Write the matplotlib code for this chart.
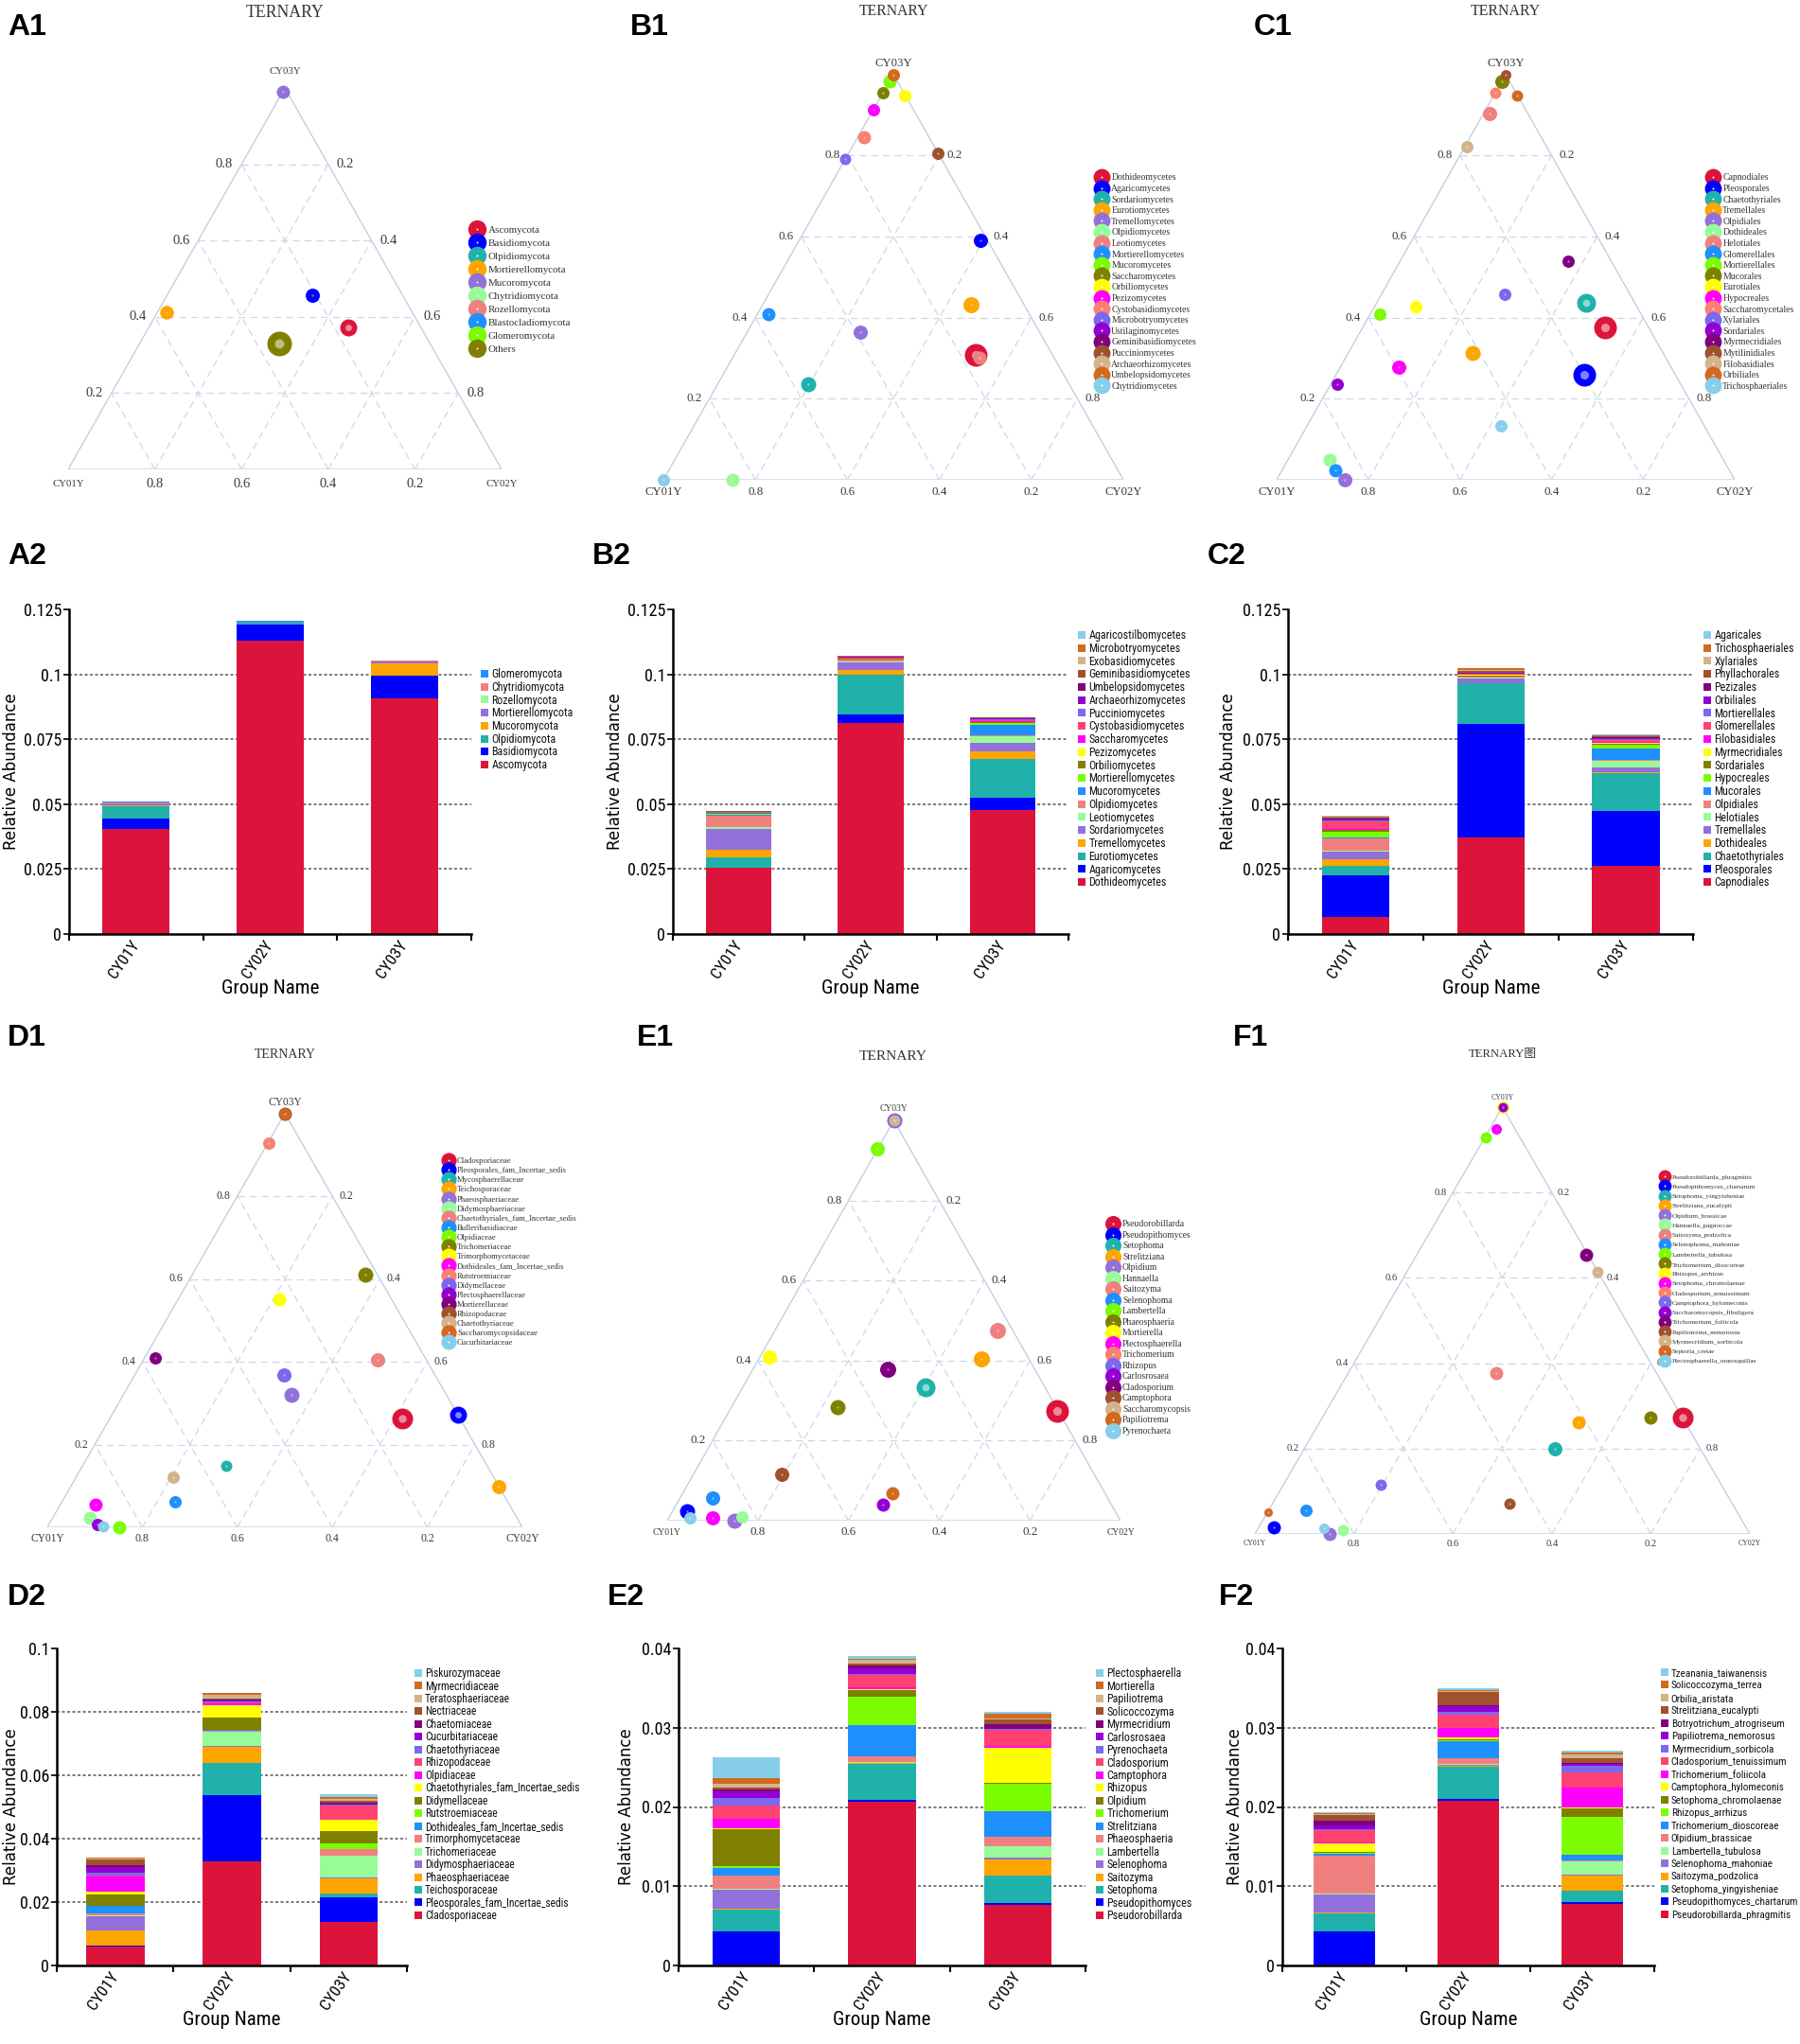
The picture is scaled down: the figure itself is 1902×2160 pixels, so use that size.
import numpy as np
import matplotlib
matplotlib.use('Agg')
import matplotlib.pyplot as plt
from matplotlib.lines import Line2D
from matplotlib.font_manager import FontProperties
from matplotlib.transforms import offset_copy

nan = np.nan
GROUPS = ['CY01Y', 'CY02Y', 'CY03Y']

# ----------------------------------------------------------------- A : phylum
a1_taxa = ['Ascomycota', 'Basidiomycota', 'Olpidiomycota', 'Mortierellomycota', 'Mucoromycota',
           'Chytridiomycota', 'Rozellomycota', 'Blastocladiomycota', 'Glomeromycota', 'Others']
a1_cy01y = [0.168, 0.208, nan, 0.568, 0.010, nan, nan, nan, nan, 0.349]
a1_cy02y = [0.460, 0.335, nan, 0.020, 0.000, nan, nan, nan, nan, 0.321]
a1_cy03y = [0.372, 0.457, nan, 0.412, 0.990, nan, nan, nan, nan, 0.330]

a2_taxa = ['Ascomycota', 'Basidiomycota', 'Olpidiomycota', 'Mucoromycota', 'Mortierellomycota',
           'Rozellomycota', 'Chytridiomycota', 'Glomeromycota']
a2_cy01y = [0.0405, 0.0041, 0.0047, 0.0003, 0.0006, 0.0001, 0.0002, 0.0005]
a2_cy02y = [0.1128, 0.0064, 0.0006, 0.0001, 0.0003, 0.0001, 0.0001, 0.0003]
a2_cy03y = [0.0906, 0.0088, 0.0002, 0.0047, 0.0007, 0.0001, 0.0001, 0.0002]

# ----------------------------------------------------------------- B : class
b1_taxa = ['Dothideomycetes', 'Agaricomycetes', 'Sordariomycetes', 'Eurotiomycetes', 'Tremellomycetes',
           'Olpidiomycetes', 'Leotiomycetes', 'Mortierellomycetes', 'Mucoromycetes', 'Saccharomycetes',
           'Orbiliomycetes', 'Pezizomycetes', 'Cystobasidiomycetes', 'Microbotryomycetes',
           'Ustilaginomycetes', 'Geminibasidiomycetes', 'Pucciniomycetes', 'Archaeorhizomycetes',
           'Umbelopsidomycetes', 'Chytridiomycetes']
b1_cy01y = [0.166, 0.015, 0.567, 0.116, 0.390, 0.849, 0.163, 0.568, 0.017, 0.045,
            0.001, 0.087, 0.141, 0.208, nan, nan, 0.000, nan, 0.000, 1.000]
b1_cy02y = [0.525, 0.394, 0.198, 0.452, 0.246, 0.151, 0.536, 0.024, 0.000, 0.000,
            0.052, 0.000, 0.015, 0.000, nan, nan, 0.194, nan, 0.000, 0.000]
b1_cy03y = [0.309, 0.591, 0.235, 0.432, 0.364, 0.000, 0.301, 0.408, 0.983, 0.955,
            0.947, 0.913, 0.844, 0.792, nan, nan, 0.806, nan, 1.000, 0.000]

b2_taxa = ['Dothideomycetes', 'Agaricomycetes', 'Eurotiomycetes', 'Tremellomycetes', 'Sordariomycetes',
           'Leotiomycetes', 'Olpidiomycetes', 'Mucoromycetes', 'Mortierellomycetes', 'Orbiliomycetes',
           'Pezizomycetes', 'Saccharomycetes', 'Cystobasidiomycetes', 'Pucciniomycetes',
           'Archaeorhizomycetes', 'Umbelopsidomycetes', 'Geminibasidiomycetes', 'Exobasidiomycetes',
           'Microbotryomycetes', 'Agaricostilbomycetes']
b2_cy01y = [0.0254, 0.0001, 0.0039, 0.0031, 0.0080, 0.0005, 0.0046, 0.0002, 0.0005, 0.0002,
            0.0001, 0.0001, 0.0001, 0.0001, 0.0001, 0.0001, 0.0001, 0.0001, 0.0002, 0.0000]
b2_cy02y = [0.0811, 0.0033, 0.0156, 0.0018, 0.0028, 0.0002, 0.0008, 0.0001, 0.0001, 0.0001,
            0.0001, 0.0001, 0.0003, 0.0001, 0.0001, 0.0001, 0.0001, 0.0001, 0.0001, 0.0000]
b2_cy03y = [0.0477, 0.0047, 0.0151, 0.0029, 0.0032, 0.0026, 0.0003, 0.0042, 0.0006, 0.0003,
            0.0002, 0.0002, 0.0004, 0.0003, 0.0003, 0.0002, 0.0001, 0.0001, 0.0001, 0.0000]

# ----------------------------------------------------------------- C : order
c1_taxa = ['Capnodiales', 'Pleosporales', 'Chaetothyriales', 'Tremellales', 'Olpidiales', 'Dothideales',
           'Helotiales', 'Glomerellales', 'Mortierellales', 'Mucorales', 'Eurotiales', 'Hypocreales',
           'Saccharomycetales', 'Xylariales', 'Sordariales', 'Myrmecridiales', 'Mytilinidiales',
           'Filobasidiales', 'Orbiliales', 'Trichosphaeriales']
c1_cy01y = [0.096, 0.200, 0.106, 0.416, 0.851, 0.860, 0.084, 0.860, 0.571, 0.017,
            0.482, 0.596, 0.045, 0.273, 0.750, 0.094, 0.000, 0.174, 0.001, 0.444]
c1_cy02y = [0.528, 0.541, 0.458, 0.271, 0.149, 0.092, 0.013, 0.116, 0.021, 0.000,
            0.090, 0.127, 0.000, 0.270, 0.014, 0.366, 0.000, 0.004, 0.052, 0.423]
c1_cy03y = [0.376, 0.259, 0.436, 0.313, 0.000, 0.048, 0.903, 0.024, 0.408, 0.983,
            0.428, 0.277, 0.955, 0.457, 0.237, 0.540, 1.000, 0.822, 0.947, 0.133]

c2_taxa = ['Capnodiales', 'Pleosporales', 'Chaetothyriales', 'Dothideales', 'Tremellales', 'Helotiales',
           'Olpidiales', 'Mucorales', 'Hypocreales', 'Sordariales', 'Myrmecridiales', 'Filobasidiales',
           'Glomerellales', 'Mortierellales', 'Orbiliales', 'Pezizales', 'Phyllachorales', 'Xylariales',
           'Trichosphaeriales', 'Agaricales']
c2_cy01y = [0.0066, 0.0159, 0.0037, 0.0026, 0.0028, 0.0005, 0.0046, 0.0003, 0.0025, 0.0005,
            0.0002, 0.0002, 0.0028, 0.0005, 0.0004, 0.0002, 0.0004, 0.0003, 0.0002, 0.0003]
c2_cy02y = [0.0371, 0.0438, 0.0155, 0.0003, 0.0018, 0.0002, 0.0003, 0.0001, 0.0002, 0.0002,
            0.0004, 0.0001, 0.0002, 0.0001, 0.0002, 0.0002, 0.0006, 0.0002, 0.0008, 0.0001]
c2_cy03y = [0.0262, 0.0210, 0.0148, 0.0003, 0.0018, 0.0026, 0.0002, 0.0045, 0.0016, 0.0003,
            0.0004, 0.0004, 0.0006, 0.0003, 0.0003, 0.0004, 0.0003, 0.0002, 0.0002, 0.0005]

# ----------------------------------------------------------------- D : family
d1_taxa = ['Cladosporiaceae', 'Pleosporales_fam_Incertae_sedis', 'Mycosphaerellaceae', 'Teichosporaceae',
           'Phaeosphaeriaceae', 'Didymosphaeriaceae', 'Chaetothyriales_fam_Incertae_sedis',
           'Bulleribasidiaceae', 'Olpidiaceae', 'Trichomeriaceae', 'Trimorphomycetaceae',
           'Dothideales_fam_Incertae_sedis', 'Rutstroemiaceae', 'Didymellaceae', 'Plectosphaerellaceae',
           'Mortierellaceae', 'Rhizopodaceae', 'Chaetothyriaceae', 'Saccharomycopsidaceae',
           'Cucurbitariaceae']
d1_cy01y = [0.121, 0.000, 0.549, 0.000, 0.326, 0.898, 0.102, 0.700, 0.849, 0.025,
            0.235, 0.871, 0.070, 0.319, 0.891, 0.568, 0.000, 0.647, 0.000, 0.881]
d1_cy02y = [0.617, 0.728, 0.302, 0.902, 0.354, 0.079, 0.493, 0.238, 0.151, 0.365,
            0.213, 0.074, 0.002, 0.314, 0.101, 0.022, 0.000, 0.196, 0.000, 0.116]
d1_cy03y = [0.262, 0.272, 0.149, 0.098, 0.320, 0.023, 0.406, 0.062, 0.000, 0.611,
            0.552, 0.055, 0.928, 0.367, 0.008, 0.410, 1.000, 0.115, 1.000, 0.003]

d2_taxa = ['Cladosporiaceae', 'Pleosporales_fam_Incertae_sedis', 'Teichosporaceae', 'Phaeosphaeriaceae',
           'Didymosphaeriaceae', 'Trichomeriaceae', 'Trimorphomycetaceae', 'Dothideales_fam_Incertae_sedis',
           'Rutstroemiaceae', 'Didymellaceae', 'Chaetothyriales_fam_Incertae_sedis', 'Olpidiaceae',
           'Rhizopodaceae', 'Chaetothyriaceae', 'Cucurbitariaceae', 'Chaetomiaceae', 'Nectriaceae',
           'Teratosphaeriaceae', 'Myrmecridiaceae', 'Piskurozymaceae']
d2_cy01y = [0.0061, 0.0001, 0.0001, 0.0047, 0.0044, 0.0004, 0.0006, 0.0023, 0.0002, 0.0035,
            0.0009, 0.0048, 0.0002, 0.0010, 0.0017, 0.0006, 0.0018, 0.0003, 0.0002, 0.0002]
d2_cy02y = [0.0327, 0.0210, 0.0101, 0.0051, 0.0004, 0.0043, 0.0005, 0.0002, 0.0001, 0.0038,
            0.0040, 0.0006, 0.0002, 0.0002, 0.0004, 0.0003, 0.0004, 0.0012, 0.0004, 0.0002]
d2_cy03y = [0.0137, 0.0078, 0.0011, 0.0048, 0.0003, 0.0070, 0.0019, 0.0002, 0.0017, 0.0040,
            0.0034, 0.0002, 0.0043, 0.0002, 0.0002, 0.0004, 0.0007, 0.0006, 0.0006, 0.0009]

# ----------------------------------------------------------------- E : genus
e1_taxa = ['Pseudorobillarda', 'Pseudopithomyces', 'Setophoma', 'Strelitziana', 'Olpidium', 'Hannaella',
           'Saitozyma', 'Selenophoma', 'Lambertella', 'Phaeosphaeria', 'Mortierella', 'Plectosphaerella',
           'Trichomerium', 'Rhizopus', 'Carlosrosaea', 'Cladosporium', 'Camptophora', 'Saccharomycopsis',
           'Papiliotrema', 'Pyrenochaeta']
e1_cy01y = [0.002, 0.944, 0.264, 0.105, 0.851, 0.830, 0.034, 0.871, 0.071, 0.483,
            0.570, 0.897, nan, 0.000, 0.504, 0.324, 0.688, 0.000, 0.472, 0.945]
e1_cy02y = [0.724, 0.032, 0.403, 0.492, 0.149, 0.161, 0.491, 0.072, 0.000, 0.234,
            0.020, 0.097, nan, 0.000, 0.456, 0.298, 0.194, 0.000, 0.464, 0.047]
e1_cy03y = [0.274, 0.024, 0.333, 0.405, 0.000, 0.009, 0.475, 0.057, 0.929, 0.283,
            0.410, 0.007, nan, 1.000, 0.040, 0.378, 0.116, 1.000, 0.070, 0.008]

e2_taxa = ['Pseudorobillarda', 'Pseudopithomyces', 'Setophoma', 'Saitozyma', 'Selenophoma', 'Lambertella',
           'Phaeosphaeria', 'Strelitziana', 'Trichomerium', 'Olpidium', 'Rhizopus', 'Camptophora',
           'Cladosporium', 'Pyrenochaeta', 'Carlosrosaea', 'Myrmecridium', 'Solicoccozyma', 'Papiliotrema',
           'Mortierella', 'Plectosphaerella']
e2_cy01y = [0.0001, 0.0042, 0.0028, 0.0001, 0.0023, 0.0002, 0.0017, 0.0009, 0.0002, 0.0047,
            0.0001, 0.0012, 0.0017, 0.0009, 0.0009, 0.0002, 0.0003, 0.0004, 0.0008, 0.0026]
e2_cy02y = [0.0207, 0.0002, 0.0045, 0.0001, 0.0001, 0.0001, 0.0007, 0.0039, 0.0036, 0.0009,
            0.0001, 0.0002, 0.0016, 0.0001, 0.0007, 0.0004, 0.0002, 0.0005, 0.0001, 0.0004]
e2_cy03y = [0.0077, 0.0002, 0.0035, 0.0020, 0.0002, 0.0015, 0.0011, 0.0033, 0.0034, 0.0001,
            0.0045, 0.0002, 0.0020, 0.0001, 0.0001, 0.0006, 0.0005, 0.0002, 0.0006, 0.0002]

# ----------------------------------------------------------------- F : species
f1_taxa = ['Pseudorobillarda_phragmitis', 'Pseudopithomyces_chartarum', 'Setophoma_yingyisheniae',
           'Strelitziana_eucalypti', 'Olpidium_brassicae', 'Hannaella_pagnoccae', 'Saitozyma_podzolica',
           'Selenophoma_mahoniae', 'Lambertella_tubulosa', 'Trichomerium_dioscoreae', 'Rhizopus_arrhizus',
           'Setophoma_chromolaenae', 'Cladosporium_tenuissimum', 'Camptophora_hylomeconis',
           'Saccharomycopsis_fibuligera', 'Trichomerium_foliicola', 'Papiliotrema_nemorosus',
           'Myrmecridium_sorbicola', 'Septoria_cretae', 'Plectosphaerella_oratosquillae']
f1_cy01y = [0.000, 0.953, 0.295, 0.215, 0.849, 0.818, 0.323, 0.870, 0.070, 0.064,
            0.000, 0.039, nan, 0.688, 0.000, 0.004, 0.449, 0.001, 0.948, 0.854]
f1_cy02y = [0.728, 0.031, 0.506, 0.524, 0.151, 0.174, 0.300, 0.075, 0.002, 0.663,
            0.000, 0.013, nan, 0.196, 0.000, 0.343, 0.479, 0.384, 0.000, 0.132]
f1_cy03y = [0.272, 0.016, 0.199, 0.261, 0.000, 0.009, 0.377, 0.056, 0.928, 0.273,
            1.000, 0.948, nan, 0.115, 1.000, 0.653, 0.072, 0.615, 0.052, 0.014]

f2_taxa = ['Pseudorobillarda_phragmitis', 'Pseudopithomyces_chartarum', 'Setophoma_yingyisheniae',
           'Saitozyma_podzolica', 'Selenophoma_mahoniae', 'Lambertella_tubulosa', 'Olpidium_brassicae',
           'Trichomerium_dioscoreae', 'Rhizopus_arrhizus', 'Setophoma_chromolaenae',
           'Camptophora_hylomeconis', 'Trichomerium_foliicola', 'Cladosporium_tenuissimum',
           'Myrmecridium_sorbicola', 'Papiliotrema_nemorosus', 'Botryotrichum_atrogriseum',
           'Strelitziana_eucalypti', 'Orbilia_aristata', 'Solicoccozyma_terrea', 'Tzeanania_taiwanensis']
f2_cy01y = [0.0001, 0.0042, 0.0023, 0.0001, 0.0022, 0.0002, 0.0048, 0.0002, 0.0001, 0.0001,
            0.0011, 0.0001, 0.0016, 0.0001, 0.0005, 0.0006, 0.0007, 0.0001, 0.0001, 0.0001]
f2_cy02y = [0.0208, 0.0002, 0.0041, 0.0001, 0.0001, 0.0001, 0.0007, 0.0022, 0.0001, 0.0001,
            0.0003, 0.0012, 0.0016, 0.0004, 0.0007, 0.0001, 0.0017, 0.0001, 0.0001, 0.0003]
f2_cy03y = [0.0078, 0.0002, 0.0014, 0.0019, 0.0002, 0.0016, 0.0001, 0.0008, 0.0047, 0.0011,
            0.0002, 0.0025, 0.0019, 0.0008, 0.0002, 0.0002, 0.0006, 0.0004, 0.0003, 0.0002]

# ----------------------------------------------------------------- styles
TERN_COLORS = ['#DC143C', '#0000FF', '#20B2AA', '#FFA500', '#9370DB', '#98FB98', '#F08080', '#1E90FF',
               '#7CFC00', '#808000', '#FFFF00', '#FF00FF', '#FA8072', '#7B68EE', '#9400D3', '#800080',
               '#A0522D', '#D2B48C', '#D2691E', '#87CEEB']
BAR_COLORS = TERN_COLORS[:12] + ['#FF4272'] + TERN_COLORS[13:]
EDGE = '#c3cfe3'
GRIDC = '#cdd8ea'
SERIF = ['Liberation Serif', 'DejaVu Serif']
NARROW = ['Liberation Sans Narrow', 'Roboto Condensed', 'Noto Sans Condensed', 'DejaVu Sans Condensed',
          'Roboto', 'DejaVu Sans']
LEVELS = [0.2, 0.4, 0.6, 0.8]

# marker diameters in pixels (style)
a1_size = [18, 15, 14, 14.5, 14, 14, 14, 14, 14, 26]
b1_size = [24, 15, 16, 17, 15, 14, 14, 14, 14, 13, 13, 13, 14, 12, 12, 12, 13, 12, 13, 13]
c1_size = [24, 24, 20, 16, 15, 14, 15, 14, 13, 15, 13, 15, 12, 13, 13, 13, 11, 13, 12, 13]
d1_size = [22, 18, 12, 15, 16, 14, 15, 13, 14, 16, 14, 14, 13, 15, 13, 13, 14, 13, 12, 12]
e1_size = [24, 16, 20, 17, 16, 13, 17, 15, 15, 16, 15, 15, 15, 16, 14, 17, 15, 12, 14, 13]
f1_size = [22, 14, 15, 14, 14, 12, 14, 13, 12, 14, 13, 11, 12, 12, 10, 14, 12, 12, 9, 11]

W, H = 1902, 2160
fig = plt.figure(figsize=(W / 100, H / 100), dpi=100)
renderer = fig.canvas.get_renderer()


def narrow_prop(size):
    return FontProperties(family=NARROW, stretch='condensed', size=size)


def fit_size(sample, target_px, cap):
    w, _, _ = renderer.get_text_width_height_descent(sample, narrow_prop(10), ismath=False)
    return min(cap, 10 * target_px / w)


LEG_FS = 0.5 * (fit_size('Mortierellomycota', 87, 9.6) + fit_size('Geminibasidiomycetes', 106, 9.6))
TICK_FS = fit_size('0.125', 40, 13.5)
CAT_FS = fit_size('CY01Y', 45, 14)
XLAB_FS = fit_size('Group Name', 103, 16.5)


def add_box(l, r, t, b):
    return fig.add_axes([l / W, 1 - b / H, (r - l) / W, (b - t) / H])


def place_legend(handles, labels, xc, y_first, pitch, prop, hl, htp, color):
    fs = prop.get_size_in_points()
    _, h, d = renderer.get_text_width_height_descent('lp', prop, ismath=False)
    fs_px = fs * 100 / 72
    ls = (pitch - h) / fs_px
    top = y_first - ((h - d) - 0.35 * fs_px)
    left = xc - hl * fs_px / 2
    return fig.legend(handles, labels, loc='upper left', bbox_to_anchor=(left / W, 1 - top / H),
                      bbox_transform=fig.transFigure, frameon=False, prop=prop, labelspacing=ls,
                      handlelength=hl, handletextpad=htp, borderpad=0, borderaxespad=0,
                      handleheight=0.7, labelcolor=color)


def ternary(sp, taxa, fa, fb, fc, diam):
    l, r, t, b = sp['box']
    ax = add_box(l, r, t, b)
    ax.set_xlim(0, 1)
    ax.set_ylim(0, 1)
    ax.axis('off')
    ax.plot([0, 1, 0.5, 0], [0, 0, 1, 0], color=EDGE, lw=1.0, zorder=1)
    for v in LEVELS:
        kw = dict(color=GRIDC, lw=0.9, ls=(0, (6, 4)), zorder=1)
        ax.plot([v / 2, 1 - v / 2], [v, v], **kw)
        ax.plot([v, (1 + v) / 2], [0, 1 - v], **kw)
        ax.plot([1 - v, (1 - v) / 2], [0, 1 - v], **kw)
    so, bo = sp['side_off'], sp['bot_off']
    tl = offset_copy(ax.transData, fig=fig, x=-so, y=0, units='dots')
    tr = offset_copy(ax.transData, fig=fig, x=so, y=0, units='dots')
    tb = offset_copy(ax.transData, fig=fig, x=0, y=-bo, units='dots')
    tkw = dict(fontfamily=SERIF, fontsize=sp['tick_fs'], color='#3a3a3a')
    for v in LEVELS:
        ax.text(v / 2, v, f'{v:.1f}', transform=tl, ha='right', va='center', **tkw)
        ax.text(1 - v / 2, v, f'{1 - v:.1f}', transform=tr, ha='left', va='center', **tkw)
        ax.text(v, 0, f'{1 - v:.1f}', transform=tb, ha='center', va='center', **tkw)
    vkw = dict(fontfamily=SERIF, fontsize=sp['vert_fs'], color='#3a3a3a', ha='center', va='center')
    ax.text(0.5, 1, GROUPS[2], transform=offset_copy(ax.transData, fig=fig, x=0, y=sp['vt'], units='dots'), **vkw)
    tvb = offset_copy(ax.transData, fig=fig, x=0, y=-sp['vb'], units='dots')
    ax.text(0, 0, GROUPS[0], transform=tvb, **vkw)
    ax.text(1, 0, GROUPS[1], transform=tvb, **vkw)

    A = np.asarray(fa, float)
    B = np.asarray(fb, float)
    C = np.asarray(fc, float)
    S = A + B + C
    X = (B + C / 2) / S
    Y = C / S
    d = np.asarray(diam, float)
    for i in range(len(taxa)):
        if np.isnan(X[i]):
            continue
        inner = 0.38 * d[i] if d[i] >= 18 else 2.2
        ax.scatter([X[i]], [Y[i]], s=(d[i] * 0.72) ** 2, color=TERN_COLORS[i], linewidths=0,
                   zorder=3 + 2 * i, clip_on=False)
        ax.scatter([X[i]], [Y[i]], s=(inner * 0.72) ** 2, color='white', alpha=0.5, linewidths=0,
                   zorder=4 + 2 * i, clip_on=False)

    fig.text(sp['title_xy'][0] / W, 1 - sp['title_xy'][1] / H, sp['title'], ha='center', va='center',
             fontfamily=sp.get('title_family', SERIF), fontsize=sp['title_fs'], color='#333333')
    handles = [(Line2D([], [], marker='o', ls='', ms=sp['leg_ms'], color=TERN_COLORS[i], mew=0),
                Line2D([], [], marker='o', ls='', ms=1.4, color='white', mew=0)) for i in range(len(taxa))]
    lx, ly, lp, lfs = sp['legend']
    place_legend(handles, taxa, lx, ly, lp, FontProperties(family=SERIF, size=lfs), 1.0, 0.55, '#333333')


def bars(sp, taxa, v1, v2, v3):
    l, r, t, b = sp['box']
    ax = add_box(l, r, t, b)
    vals = np.array([v1, v2, v3], float)
    xs = np.arange(len(GROUPS))
    bottom = np.zeros(len(GROUPS))
    for i in range(len(taxa)):
        ax.bar(xs, vals[:, i], width=0.5, bottom=bottom, color=BAR_COLORS[i], linewidth=0, zorder=2)
        bottom = bottom + vals[:, i]
    ax.set_xlim(-0.5, len(GROUPS) - 0.5)
    ax.set_ylim(0, sp['ytop'])
    ticks = np.round(np.arange(0, sp['ytop'] + 1e-9, sp['ystep']), 4)
    ax.set_yticks(ticks, [f'{v:g}' for v in ticks], fontproperties=narrow_prop(TICK_FS))
    for v in ticks[1:-1]:
        ax.axhline(v, color='#555555', lw=1.1, ls=(0, (2.0, 1.6)), zorder=1)
    ax.set_xticks(np.arange(len(GROUPS) + 1) - 0.5, [])
    ax.set_xticks(xs, GROUPS, minor=True, rotation=55, ha='right', va='center',
                  rotation_mode='anchor', fontproperties=narrow_prop(CAT_FS))
    ax.tick_params(axis='x', which='minor', length=0, pad=6)
    ax.tick_params(axis='x', which='major', length=5, width=1.5, direction='out')
    ax.tick_params(axis='y', length=4, width=1.2, pad=1.5)
    for s in ('top', 'right'):
        ax.spines[s].set_visible(False)
    for s in ('left', 'bottom'):
        ax.spines[s].set_linewidth(1.8)
    fig.text(sp['ylab_x'] / W, 1 - (t + b) / 2 / H, 'Relative Abundance', rotation=90, ha='center',
             va='center', fontfamily='DejaVu Sans', fontsize=12)
    fig.text((l + r) / 2 / W, 1 - sp['xlab_y'] / H, 'Group Name', ha='center', va='center',
             fontproperties=narrow_prop(XLAB_FS))
    n = len(taxa)
    handles = [Line2D([], [], marker='s', ls='', ms=5.8, color=BAR_COLORS[i], mew=0) for i in range(n)][::-1]
    lx, ly, lp = sp['legend']
    place_legend(handles, list(taxa)[::-1], lx, ly, lp, narrow_prop(LEG_FS * sp.get('leg_scale', 1.0)),
                 0.6, 0.3, '#111111')


row1_t = dict(side_off=8, bot_off=13, vt=12, vb=13, tick_fs=9.4, vert_fs=9.1, leg_ms=12.9)
tern_specs = {
    'A1': dict(box=(72, 530, 93, 496), title='TERNARY', title_xy=(301, 14), title_fs=12.8,
               side_off=9, bot_off=15.6, vt=18, vb=15, tick_fs=10.5, vert_fs=7.8, leg_ms=14,
               legend=(504, 241, 13.4, 7.9)),
    'B1': dict(box=(701, 1187, 78.5, 507), title='TERNARY', title_xy=(944, 12), title_fs=11.3,
               legend=(1164, 187, 11.6, 7.0), **row1_t),
    'C1': dict(box=(1349, 1833, 78.5, 507), title='TERNARY', title_xy=(1591, 12), title_fs=11.4,
               legend=(1810, 187, 11.6, 7.0), **row1_t),
    'D1': dict(box=(50, 552, 1176.5, 1614), title='TERNARY', title_xy=(301, 1115), title_fs=10,
               side_off=7, bot_off=12, vt=12, vb=12, tick_fs=8.6, vert_fs=8.3, leg_ms=11.7,
               legend=(474, 1226, 10.1, 6.2)),
    'E1': dict(box=(705, 1184, 1184, 1607), title='TERNARY', title_xy=(944, 1117), title_fs=11.1,
               side_off=7, bot_off=12.5, vt=12, vb=12.5, tick_fs=9.4, vert_fs=6.9, leg_ms=12.3,
               legend=(1176, 1293, 11.5, 6.9)),
    'F1': dict(box=(1326, 1849, 1170, 1621), title='TERNARY图', title_xy=(1588, 1114), title_fs=9.2,
               title_family=['Liberation Serif', 'Noto Sans CJK SC'],
               side_off=6, bot_off=10.4, vt=10, vb=10.4, tick_fs=7.7, vert_fs=5.6, leg_ms=10,
               legend=(1759, 1242, 9.2, 5.2)),
}
bar_specs = {
    'A2': dict(box=(73, 498, 644, 987), ytop=0.125, ystep=0.025, legend=(512, 712, 13.7), ylab_x=12, xlab_y=1045),
    'B2': dict(box=(711, 1129, 644, 987), ytop=0.125, ystep=0.025, legend=(1143, 671, 13.74), ylab_x=650, xlab_y=1045),
    'C2': dict(box=(1361, 1789.5, 644, 987), ytop=0.125, ystep=0.025, legend=(1804, 671, 13.74), ylab_x=1298, xlab_y=1045),
    'D2': dict(box=(60, 430, 1742, 2077), ytop=0.1, ystep=0.02, legend=(442, 1768, 13.47), ylab_x=12, xlab_y=2134,
               leg_scale=0.96),
    'E2': dict(box=(717, 1147, 1742, 2077), ytop=0.04, ystep=0.01, legend=(1162, 1768, 13.47), ylab_x=662, xlab_y=2134),
    'F2': dict(box=(1355, 1748, 1742, 2077), ytop=0.04, ystep=0.01, legend=(1759, 1767, 13.47), ylab_x=1305, xlab_y=2134,
               leg_scale=0.93),
}

ternary(tern_specs['A1'], a1_taxa, a1_cy01y, a1_cy02y, a1_cy03y, a1_size)
ternary(tern_specs['B1'], b1_taxa, b1_cy01y, b1_cy02y, b1_cy03y, b1_size)
ternary(tern_specs['C1'], c1_taxa, c1_cy01y, c1_cy02y, c1_cy03y, c1_size)
ternary(tern_specs['D1'], d1_taxa, d1_cy01y, d1_cy02y, d1_cy03y, d1_size)
ternary(tern_specs['E1'], e1_taxa, e1_cy01y, e1_cy02y, e1_cy03y, e1_size)
ternary(tern_specs['F1'], f1_taxa, f1_cy01y, f1_cy02y, f1_cy03y, f1_size)

bars(bar_specs['A2'], a2_taxa, a2_cy01y, a2_cy02y, a2_cy03y)
bars(bar_specs['B2'], b2_taxa, b2_cy01y, b2_cy02y, b2_cy03y)
bars(bar_specs['C2'], c2_taxa, c2_cy01y, c2_cy02y, c2_cy03y)
bars(bar_specs['D2'], d2_taxa, d2_cy01y, d2_cy02y, d2_cy03y)
bars(bar_specs['E2'], e2_taxa, e2_cy01y, e2_cy02y, e2_cy03y)
bars(bar_specs['F2'], f2_taxa, f2_cy01y, f2_cy02y, f2_cy03y)

panel_labels = {'A1': (8, 14), 'B1': (666, 14), 'C1': (1325, 14),
                'A2': (8, 573), 'B2': (626, 573), 'C2': (1276, 573),
                'D1': (8, 1082), 'E1': (673, 1082), 'F1': (1303, 1082),
                'D2': (8, 1673), 'E2': (642, 1673), 'F2': (1288, 1673)}
for lab, (x, y) in panel_labels.items():
    fig.text(x / W, 1 - y / H, lab, ha='left', va='top', fontfamily=['Liberation Sans', 'DejaVu Sans'],
             fontweight='bold', fontsize=23)

fig.savefig('out.png', dpi=100, facecolor='white')
